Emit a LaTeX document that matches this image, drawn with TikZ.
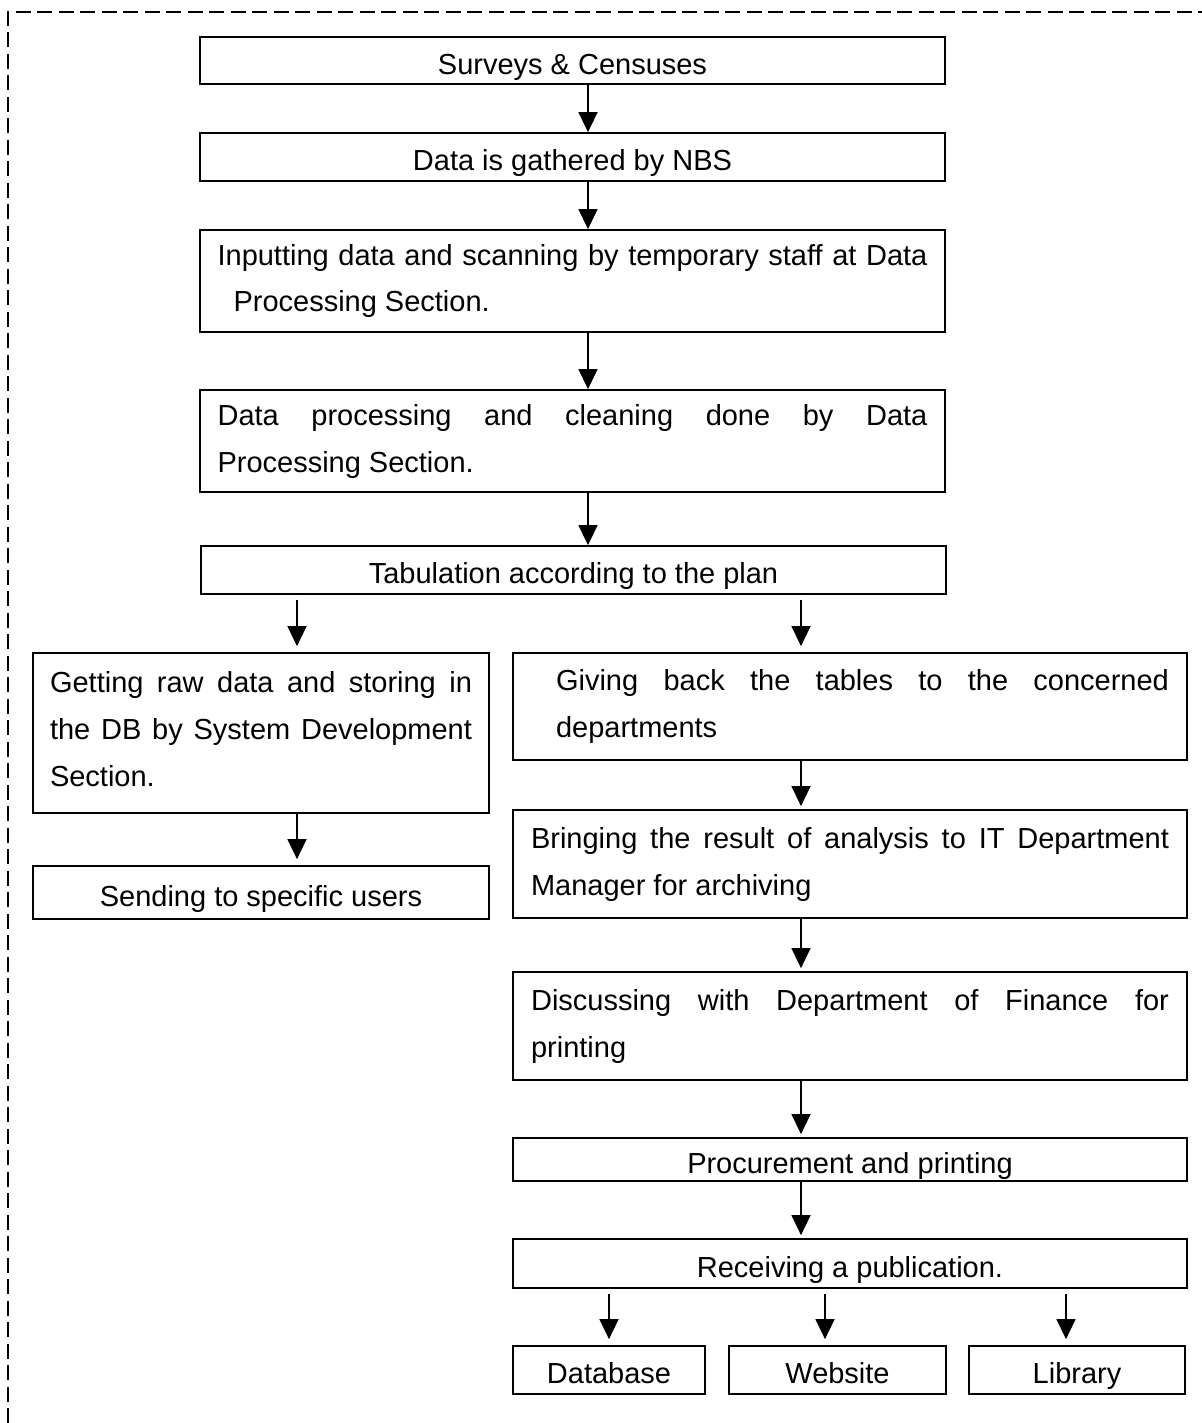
\documentclass[tikz,border=0pt]{standalone}
\usepackage{fontspec}
\setmainfont{Liberation Sans}
\usetikzlibrary{arrows.meta}

\tikzset{
    stage/.style={draw, line width=1pt, inner sep=0pt,
        font=\fontsize{16.5}{26.75}\selectfont},
    oneline/.style={text height=15.4pt, text depth=0pt},
    wide/.style={stage, minimum width=14.9cm},
    leftcol/.style={stage, minimum width=9.12cm},
    rightcol/.style={stage, minimum width=13.48cm},
    para/.style={align=justify},
    flow/.style={-{Triangle[length=0.4cm,width=0.38cm]}, line width=0.8pt},
    frame/.style={line width=1pt, dash pattern=on 0.3cm off 0.13cm}
}

\begin{document}
\begin{tikzpicture}[x=0.02cm, y=-0.02cm]
    \useasboundingbox (0,0) rectangle (1202,1423);
    \draw[frame] (8,1423) -- (8,12) -- (1202,12);

    % main column
    \node[wide, oneline, minimum height=0.94cm] (surveys) at (572.5,60.5) {Surveys \& Censuses};
    \node[wide, oneline, minimum height=0.96cm] (gathered) at (572.5,157) {Data is gathered by NBS};
    \node[wide, para, text width=14.2cm, inner xsep=0.35cm, minimum height=2.04cm] (inputting) at (572.5,281)
        {Inputting data and scanning by temporary staff at Data\linebreak\hspace*{0.32cm}Processing Section.};
    \node[wide, para, text width=14.2cm, inner xsep=0.35cm, minimum height=2.04cm] (processing) at (572.5,441)
        {Data processing and cleaning done by Data\linebreak Processing Section.};
    \node[wide, oneline, minimum height=0.96cm] (tab) at (573.5,570) {Tabulation according to the plan};

    % left branch
    \node[leftcol, para, text width=8.44cm, inner xsep=0.34cm, text depth=58pt, minimum height=3.2cm] (getting) at (261,733)
        {Getting raw data and storing in the DB by System Development Section.};
    \node[leftcol, oneline, minimum height=1.06cm] (sending) at (261,892.5) {Sending to specific users};

    % right branch
    \node[rightcol, para, text width=12.76cm, inner xsep=0.36cm, minimum height=2.14cm] (giving) at (850,706.5)
        {\hspace*{0.5cm}Giving back the tables to the concerned\linebreak\hspace*{0.5cm}departments};
    \node[rightcol, para, text width=12.76cm, inner xsep=0.36cm, minimum height=2.16cm] (bringing) at (850,864)
        {Bringing the result of analysis to IT Department\linebreak Manager for archiving};
    \node[rightcol, para, text width=12.76cm, inner xsep=0.36cm, minimum height=2.16cm] (discussing) at (850,1026)
        {Discussing with Department of Finance for\linebreak printing};
    \node[rightcol, oneline, minimum height=0.86cm] (procure) at (850,1159.5) {Procurement and printing};
    \node[rightcol, oneline, minimum height=0.98cm] (receiving) at (850,1263.5) {Receiving a publication.};

    % outlets
    \node[stage, oneline, minimum width=3.84cm, minimum height=0.96cm] (database) at (609,1370) {Database};
    \node[stage, oneline, minimum width=4.34cm, minimum height=0.96cm] (website) at (837.5,1370) {Website};
    \node[stage, oneline, minimum width=4.32cm, minimum height=0.96cm] (library) at (1077,1370) {Library};

    % arrow columns
    \coordinate (mid) at (588,0);
    \coordinate (lcol) at (297,0);
    \coordinate (rcol) at (801,0);
    \coordinate (dbcol) at (609,0);
    \coordinate (webcol) at (825,0);
    \coordinate (libcol) at (1066,0);

    \foreach \a/\b in {surveys/gathered, gathered/inputting, inputting/processing, processing/tab}
        \draw[flow] (\a.south -| mid) -- (\b.north -| mid);
    \draw[flow, shorten <=0.1cm, shorten >=0.12cm] (tab.south -| lcol) -- (getting.north -| lcol);
    \draw[flow, shorten <=0.1cm, shorten >=0.12cm] (tab.south -| rcol) -- (giving.north -| rcol);
    \draw[flow, shorten >=0.12cm] (getting.south -| lcol) -- (sending.north -| lcol);
    \foreach \a/\b in {giving/bringing, bringing/discussing, discussing/procure, procure/receiving}
        \draw[flow, shorten >=0.06cm] (\a.south -| rcol) -- (\b.north -| rcol);
    \foreach \b/\c in {database/dbcol, website/webcol, library/libcol}
        \draw[flow, shorten <=0.1cm, shorten >=0.12cm] (receiving.south -| \c) -- (\b.north -| \c);
\end{tikzpicture}
\end{document}
